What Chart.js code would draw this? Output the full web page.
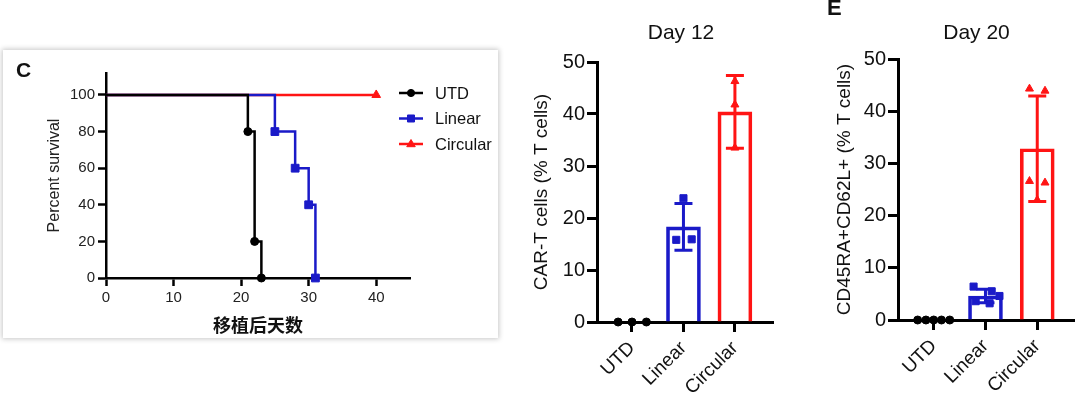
<!DOCTYPE html>
<html><head><meta charset="utf-8">
<script src="https://cdn.jsdelivr.net/npm/chart.js@4.4.1/dist/chart.umd.min.js"></script>
<style>
html,body{margin:0;padding:0;background:#fff;width:1080px;height:399px;overflow:hidden;position:relative;font-family:"Liberation Sans",Arial,sans-serif;}
#boxC{position:absolute;left:3px;top:50px;width:495px;height:288px;background:#fff;box-shadow:0 0 5px 1px rgba(0,0,0,0.22);}
canvas{position:absolute;}
.lbl{position:absolute;font-weight:bold;color:#111;line-height:1;font-family:"Liberation Sans",Arial,sans-serif;}
</style></head><body>
<div id="boxC"></div>
<canvas id="cC" width="495" height="288" style="left:3px;top:50px"></canvas>
<canvas id="c12" width="290" height="399" style="left:500px;top:0px"></canvas>
<canvas id="c20" width="280" height="399" style="left:800px;top:0px"></canvas>
<div class="lbl" style="left:16px;top:59px;font-size:21px">C</div>
<div class="lbl" style="left:827px;top:-3px;font-size:22px">E</div>
<script>
// ---------- data ----------
const groups = ['UTD', 'Linear', 'Circular'];
const colors = ['#000000', '#1a1ac8', '#ff1414'];

// Panel C: Kaplan-Meier survival
const kmDaysUTD = [0, 21, 22, 23];
const kmSurvUTD = [100, 80, 20, 0];
const kmDaysLinear = [0, 25, 28, 30, 31];
const kmSurvLinear = [100, 80, 60, 40, 0];
const kmDaysCircular = [0, 40];
const kmSurvCircular = [100, 100];
const kmXTicks = [0, 10, 20, 30, 40];
const kmYTicks = [0, 20, 40, 60, 80, 100];

// Day 12: CAR-T cells (% T cells)
const day12Means = [0, 18.3, 40.4];
const day12SD = [0, 4.5, 7.0];
const day12UTD = [0, 0, 0];
const day12Linear = [15.8, 15.9, 23.8];
const day12Circular = [46.3, 41.8, 33.5];
const day12JitterUTD = [-0.27, 0, 0.28];
const day12JitterLinear = [-0.14, 0.16, 0];
const day12JitterCircular = [0, 0, 0];

// Day 20: CD45RA+CD62L+ (% T cells)
const day20Means = [0, 4.6, 32.8];
const day20SD = [0, 1.3, 10.1];
const day20UTD = [0, 0, 0, 0, 0];
const day20Linear = [6.4, 5.5, 4.6, 3.6, 3.2];
const day20Circular = [44.3, 43.9, 26.6, 26.3, 23.0];
const day20JitterUTD = [-0.31, -0.15, 0, 0.15, 0.31];
const day20JitterLinear = [-0.23, 0.12, 0.27, -0.19, 0.08];
const day20JitterCircular = [-0.15, 0.15, -0.15, 0.15, 0];

const barYTicks = [0, 10, 20, 30, 40, 50];

// ---------- setup ----------
const FAM = '"Liberation Sans", Arial, sans-serif';
Chart.defaults.font.family = FAM;
Chart.defaults.color = '#111';

function drawMarker(ctx, style, x, y, r, color) {
  ctx.save();
  ctx.fillStyle = color; ctx.strokeStyle = color; ctx.lineWidth = 1;
  ctx.beginPath();
  if (style === 'circle') { ctx.arc(x, y, r, 0, Math.PI * 2); }
  else if (style === 'rect') { const s = r * Math.SQRT1_2; ctx.rect(x - s, y - s, 2 * s, 2 * s); }
  else { const w = r * 0.95; ctx.moveTo(x, y - r); ctx.lineTo(x + w, y + r * 0.6); ctx.lineTo(x - w, y + r * 0.6); ctx.closePath(); }
  ctx.fill(); ctx.stroke();
  ctx.restore();
}

function zeroPad(s) { s.paddingTop = 0; s.paddingBottom = 0; s.paddingLeft = 0; s.paddingRight = 0; }

// ---------- Panel C ----------
const kmStyles = ['circle', 'rect', 'triangle'];
const kmRadius = [4, 5.5, 5];
function kmSet(i, xs, ys) {
  return {
    label: groups[i],
    data: xs.map((x, k) => ({ x: x, y: ys[k] })),
    borderColor: colors[i], backgroundColor: colors[i],
    borderWidth: 2.5, stepped: true, fill: false, clip: false,
    pointStyle: kmStyles[i],
    pointRadius: xs.map((_, k) => (k === 0 ? 0 : kmRadius[i])),
    pointBorderWidth: 1
  };
}
const kmLegend = {
  id: 'kmLegend',
  afterDraw(chart) {
    const ctx = chart.ctx;
    groups.forEach((g, i) => {
      const y = 43 + i * 25.5;
      ctx.save();
      ctx.strokeStyle = colors[i]; ctx.lineWidth = 2.5;
      ctx.beginPath(); ctx.moveTo(396, y); ctx.lineTo(420, y); ctx.stroke();
      drawMarker(ctx, kmStyles[i], 408, y, kmRadius[i] * 0.9, colors[i]);
      ctx.fillStyle = '#111'; ctx.font = '16.5px ' + FAM;
      ctx.textAlign = 'left'; ctx.textBaseline = 'middle';
      ctx.fillText(g, 432, y + 1);
      ctx.restore();
    });
  }
};
new Chart(document.getElementById('cC'), {
  type: 'line',
  data: { datasets: [kmSet(0, kmDaysUTD, kmSurvUTD), kmSet(1, kmDaysLinear, kmSurvLinear), kmSet(2, kmDaysCircular, kmSurvCircular)] },
  options: {
    animation: false, responsive: false, events: [],
    layout: { padding: { left: 0, right: 88, top: 23, bottom: 0 } },
    plugins: { legend: { display: false }, tooltip: { enabled: false } },
    scales: {
      x: {
        type: 'linear', min: 0, max: 45,
        afterBuildTicks(s) { s.ticks = kmXTicks.map(v => ({ value: v })); },
        afterFit(s) { s.height = 60; zeroPad(s); },
        grid: { drawOnChartArea: false, tickLength: 8, tickWidth: 2.5, tickColor: '#000' },
        border: { color: '#000', width: 2.5 },
        ticks: { color: '#222', font: { size: 15 }, padding: 3, maxRotation: 0 },
        title: { display: true, text: '移植后天数', color: '#111', font: { size: 18, weight: 'bold', family: '"Noto Sans CJK SC", sans-serif' }, padding: { top: 0, bottom: 2 } }
      },
      y: {
        type: 'linear', min: 0, max: 112,
        afterBuildTicks(s) { s.ticks = kmYTicks.map(v => ({ value: v })); },
        afterFit(s) { s.width = 103; zeroPad(s); },
        grid: { drawOnChartArea: false, tickLength: 8, tickWidth: 2.5, tickColor: '#000' },
        border: { color: '#000', width: 2.5 },
        ticks: { color: '#222', font: { size: 15 }, padding: 3 },
        title: { display: true, text: 'Percent survival', color: '#222', font: { size: 16 }, padding: { top: 42, bottom: 0 } }
      }
    }
  },
  plugins: [kmLegend]
});

// ---------- Bar panels ----------
function makeErrorPlugin(means, sds) {
  return {
    id: 'errorBars',
    afterDatasetDraw(chart, args) {
      if (args.index !== 0) return;
      const ctx = chart.ctx, x = chart.scales.x, y = chart.scales.y;
      means.forEach((m, i) => {
        if (!sds[i]) return;
        const px = x.getPixelForValue(i);
        const yt = y.getPixelForValue(m + sds[i]);
        const yb = y.getPixelForValue(m - sds[i]);
        ctx.save();
        ctx.strokeStyle = colors[i]; ctx.lineWidth = 3;
        ctx.beginPath();
        ctx.moveTo(px, yt); ctx.lineTo(px, yb);
        ctx.moveTo(px - 9, yt); ctx.lineTo(px + 9, yt);
        ctx.moveTo(px - 9, yb); ctx.lineTo(px + 9, yb);
        ctx.stroke();
        ctx.restore();
      });
    }
  };
}
function makeTitlePlugin(text, dx) {
  return {
    id: 'panelTitle',
    afterDraw(chart) {
      const ctx = chart.ctx, a = chart.chartArea;
      ctx.save();
      ctx.fillStyle = '#111'; ctx.font = '21px ' + FAM;
      ctx.textAlign = 'center'; ctx.textBaseline = 'alphabetic';
      ctx.fillText(text, (a.left + a.right) / 2 + dx, 39);
      ctx.restore();
    }
  };
}
function ptSet(i, vals, jit) {
  return {
    type: 'scatter', order: 1, clip: false,
    data: vals.map((v, k) => ({ x: i + jit[k], y: v })),
    pointStyle: kmStyles[i], pointRadius: [4, 5, 4.6][i],
    backgroundColor: colors[i], borderColor: colors[i], pointBorderWidth: 1
  };
}
function barChart(id, means, sds, pts, jits, xmin, xmax, geom, ytitle, title, titleDx) {
  return new Chart(document.getElementById(id), {
    type: 'bar',
    data: {
      datasets: [
        {
          type: 'bar', order: 2,
          data: means.map((m, i) => ({ x: i, y: m })),
          backgroundColor: 'rgba(255,255,255,0)', borderColor: colors,
          borderWidth: 3, borderSkipped: 'start', barThickness: 34
        },
        ptSet(0, pts[0], jits[0]), ptSet(1, pts[1], jits[1]), ptSet(2, pts[2], jits[2])
      ]
    },
    options: {
      animation: false, responsive: false, events: [],
      layout: { padding: { left: 0, right: geom.right, top: geom.top, bottom: 0 } },
      plugins: { legend: { display: false }, tooltip: { enabled: false } },
      scales: {
        x: {
          type: 'linear', min: xmin, max: xmax, offset: false,
          afterBuildTicks(s) { s.ticks = groups.map((g, i) => ({ value: i })); },
          afterFit(s) { s.height = geom.xh; zeroPad(s); },
          grid: { offset: false, drawOnChartArea: false, tickLength: 10, tickWidth: 3, tickColor: '#000' },
          border: { color: '#000', width: 3 },
          ticks: { color: '#111', font: { size: 19 }, padding: 5, minRotation: 45, maxRotation: 45, callback: v => groups[Math.round(v)] }
        },
        y: {
          type: 'linear', min: 0, max: 50,
          afterBuildTicks(s) { s.ticks = barYTicks.map(v => ({ value: v })); },
          afterFit(s) { s.width = geom.yw; zeroPad(s); },
          grid: { drawOnChartArea: false, tickLength: 10, tickWidth: 3, tickColor: '#000' },
          border: { color: '#000', width: 3 },
          ticks: { color: '#111', font: { size: 20 }, padding: 2 },
          title: { display: true, text: ytitle, color: '#111', font: { size: 19 }, padding: { top: geom.tp, bottom: 0 } }
        }
      }
    },
    plugins: [makeErrorPlugin(means, sds), makeTitlePlugin(title, titleDx)]
  });
}

barChart('c12', day12Means, day12SD,
  [day12UTD, day12Linear, day12Circular],
  [day12JitterUTD, day12JitterLinear, day12JitterCircular],
  -0.68, 2.74, { right: 17, top: 62, xh: 77, yw: 97, tp: 30.6 },
  'CAR-T cells (% T cells)', 'Day 12', -4);

barChart('c20', day20Means, day20SD,
  [day20UTD, day20Linear, day20Circular],
  [day20JitterUTD, day20JitterLinear, day20JitterCircular],
  -0.69, 2.71, { right: 5, top: 59, xh: 79, yw: 98, tp: 33.6 },
  'CD45RA+CD62L+ (% T cells)', 'Day 20', -9.5);
</script>
</body></html>
